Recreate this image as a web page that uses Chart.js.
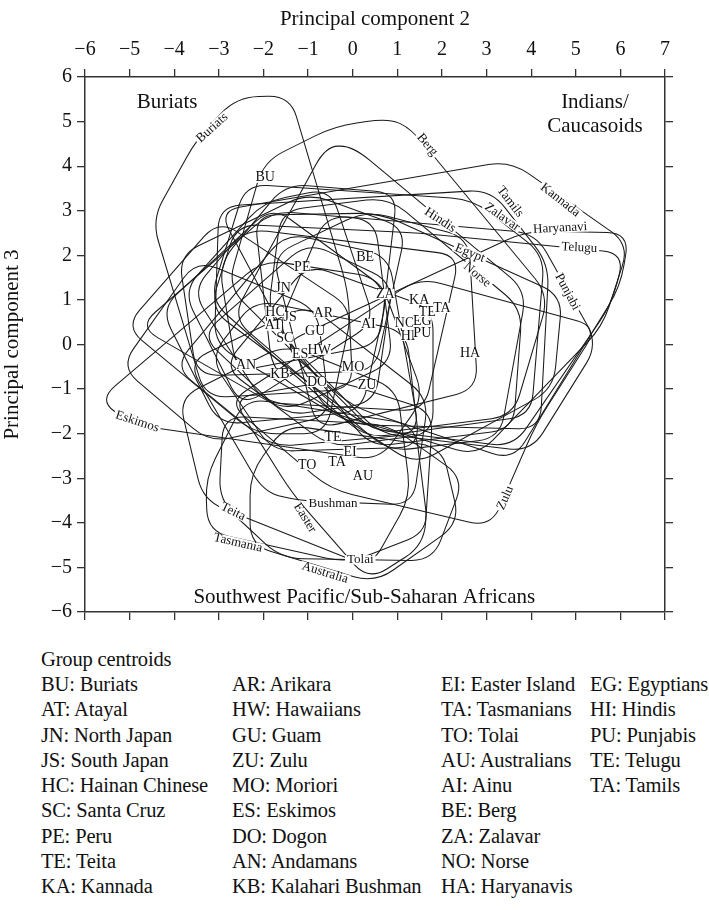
<!DOCTYPE html>
<html>
<head>
<meta charset="utf-8">
<script src="https://cdn.jsdelivr.net/npm/chart.js@4.4.1/dist/chart.umd.min.js"></script>
<style>
  html,body{margin:0;padding:0;background:#fff;}
  body{width:709px;height:910px;overflow:hidden;position:relative;font-family:"Liberation Serif","Times New Roman",serif;color:#111;}
  #wrap{position:absolute;left:0;top:0;width:709px;height:640px;}
  .col{position:absolute;font-size:20.5px;line-height:25.3px;white-space:nowrap;letter-spacing:-0.15px;}
</style>
</head>
<body>
<div id="wrap"><canvas id="c" width="709" height="640"></canvas></div>
<div class="col" style="left:41px;top:647px;">Group centroids</div>
<div class="col" id="col1" style="left:41px;top:672px;"></div>
<div class="col" id="col2" style="left:232px;top:672px;"></div>
<div class="col" id="col3" style="left:441px;top:672px;"></div>
<div class="col" id="col4" style="left:590px;top:672px;"></div>
<script>
// ---------------- DATA ----------------
const xTicksMin = -6, xTicksMax = 7;
const yTicksMin = -6, yTicksMax = 6;

// centroid codes (same order as legend) and their positions
const centroidCodes = ['BU','AT','JN','JS','HC','SC','PE','TE','KA',
                       'AR','HW','GU','ZU','MO','ES','DO','AN','KB',
                       'EI','TA','TO','AU','AI','BE','ZA','NO','HA',
                       'EG','HI','PU','TE','TA'];
const centroidX = [-1.96,-1.78,-1.56,-1.40,-1.74,-1.52,-1.13,-0.44,1.49,
                   -0.66,-0.75,-0.84,0.32,0.01,-1.18,-0.80,-2.39,-1.63,
                   -0.06,-0.35,-1.02,0.23,0.35,0.28,0.73,1.17,2.63,
                   1.56,1.24,1.56,1.67,2.00];
const centroidY = [3.74,0.42,1.27,0.62,0.73,0.13,1.72,-2.09,1.00,
                   0.71,-0.12,0.30,-0.91,-0.52,-0.21,-0.84,-0.46,-0.66,
                   -2.41,-2.65,-2.70,-2.95,0.46,1.96,1.13,0.48,-0.19,
                   0.53,0.19,0.26,0.73,0.82];

// legend entries
const legendCol1 = ['BU: Buriats','AT: Atayal','JN: North Japan','JS: South Japan','HC: Hainan Chinese','SC: Santa Cruz','PE: Peru','TE: Teita','KA: Kannada'];
const legendCol2 = ['AR: Arikara','HW: Hawaiians','GU: Guam','ZU: Zulu','MO: Moriori','ES: Eskimos','DO: Dogon','AN: Andamans','KB: Kalahari Bushman'];
const legendCol3 = ['EI: Easter Island','TA: Tasmanians','TO: Tolai','AU: Australians','AI: Ainu','BE: Berg','ZA: Zalavar','NO: Norse','HA: Haryanavis'];
const legendCol4 = ['EG: Egyptians','HI: Hindis','PU: Punjabis','TE: Telugu','TA: Tamils'];

// group outlines (corner points, data units: PC2, PC3)
const hull_BU = [[-2.6,5.55],[-1.4,5.58],[-0.1,1.2],[0.0,-1.0],[-3.3,-1.2],[-4.5,2.8],[-3.5,4.6]];
const hull_AT = [[-4.3,0.8],[-1.8,3.1],[0.8,1.2],[0.2,-1.5],[-3.0,-1.8]];
const hull_JN = [[-3.9,2.0],[-1.0,3.4],[1.2,2.6],[0.5,-0.6],[-3.5,-0.7]];
const hull_JS = [[-4.8,0.4],[-1.8,3.0],[0.5,2.8],[0.9,-0.4],[-1.5,-1.5]];
const hull_HC = [[-3.8,1.2],[-2.0,3.2],[-0.5,3.5],[0.5,0.5],[-2.5,-1.4]];
const hull_SC = [[-5.1,0.4],[-3.0,2.8],[0.0,0.8],[-0.6,-2.0],[-2.2,-2.0]];
const hull_PE = [[-3.0,1.8],[-1.5,3.6],[1.0,3.4],[0.6,0.0],[-2.6,-0.6]];
const hull_TEi = [[-1.5,0.0],[-3.9,-1.2],[-3.35,-3.5],[0.4,-5.0],[1.3,-3.4],[1.0,-1.0]];
const hull_KA = [[-3.0,3.0],[3.53,4.12],[6.2,2.25],[5.6,0.4],[2.8,-2.5],[-0.6,-1.5]];
const hull_AR = [[-3.6,1.2],[-2.4,2.6],[2.4,2.0],[1.6,-1.5],[-2.0,-1.3]];
const hull_HW = [[-4.0,-0.5],[-1.5,2.5],[0.8,2.0],[1.5,-2.0],[-1.8,-2.3]];
const hull_GU = [[-3.4,0.2],[-1.0,2.3],[0.9,1.4],[0.5,-1.3],[-1.5,-1.6]];
const hull_ZU = [[-2.8,-1.3],[-0.5,-3.25],[3.1,-4.1],[4.1,-1.8],[5.5,0.4],[1.5,1.5]];
const hull_MO = [[-2.9,-0.5],[-1.0,1.8],[1.8,0.8],[1.8,-2.0],[-0.5,-2.3]];
const hull_ES = [[-5.7,-1.25],[-4.9,-1.8],[0.6,-2.6],[1.6,-1.2],[0.6,1.5],[-2.0,1.9]];
const hull_DO = [[-3.2,-0.3],[-2.2,1.0],[1.2,0.3],[1.5,-2.3],[-1.8,-2.4]];
const hull_AN = [[-5.2,-0.5],[-3.5,1.9],[-0.8,0.8],[-0.5,-1.6],[-3.2,-2.2]];
const hull_KB = [[-3.7,-0.4],[-2.0,-3.3],[-1.25,-3.5],[1.35,-3.6],[1.7,-1.2],[-1.0,0.9]];
const hull_EI = [[-2.7,-1.2],[-1.35,-3.35],[0.35,-5.3],[1.6,-4.5],[1.8,-1.5],[-0.4,-0.8]];
const hull_TAs = [[-2.4,-1.2],[-3.3,-3.0],[-3.25,-4.2],[-0.1,-4.9],[1.7,-4.2],[1.4,-1.8]];
const hull_TO = [[-2.9,-1.6],[-3.0,-3.5],[-1.6,-4.8],[1.8,-4.85],[2.5,-3.0],[0.8,-1.8]];
const hull_AU = [[-1.5,-1.8],[-2.3,-2.9],[-2.3,-4.5],[0.5,-5.35],[2.4,-4.0],[2.0,-2.3]];
const hull_AI = [[-1.8,2.0],[0.3,3.0],[2.6,2.4],[2.8,-1.0],[-0.8,-1.9]];
const hull_BE = [[-2.0,4.1],[-0.4,4.9],[0.8,5.07],[1.3,4.85],[4.4,1.1],[3.6,-1.6],[0.5,-2.0],[-2.8,1.3]];
const hull_ZA = [[-2.4,3.6],[2.7,3.25],[4.3,2.0],[4.0,-1.6],[0.3,-2.1],[-3.2,1.0]];
const hull_NO = [[-1.6,3.0],[0.8,3.3],[3.8,0.8],[3.6,-1.9],[0.4,-2.3],[-1.9,0.7]];
const hull_HA = [[-1.6,0.0],[3.9,2.55],[6.2,2.5],[6.0,1.3],[3.6,-2.6],[0.0,-1.4]];
const hull_EG = [[-2.2,2.9],[0.6,2.95],[4.7,1.1],[4.5,-1.0],[1.4,-2.7],[-1.8,-0.6]];
const hull_HI = [[-0.6,4.45],[0.0,4.45],[3.9,1.2],[3.3,-2.1],[0.8,-2.4],[-2.7,0.6]];
const hull_PU = [[-0.6,2.9],[4.1,2.5],[5.5,0.0],[4.0,-2.4],[0.6,-2.0],[-1.7,0.3]];
const hull_TEl = [[-2.6,2.7],[1.5,2.5],[6.1,2.05],[5.8,0.9],[3.6,-2.3],[0.4,-1.9],[-3.2,0.8]];
const hull_TAm = [[-3.0,3.1],[3.1,3.47],[4.4,1.8],[4.2,-1.9],[0.0,-1.8],[-3.1,0.0]];

// names written along outlines
const curveLabelText  = ['Buriats','Berg','Kannada','Tamils','Zalavar','Haryanavi','Telugu','Hindis','Egypt','Norse','Punjabi','Eskimos','Teita','Tasmania','Easter','Bushman','Tolai','Australia','Zulu'];
const curveLabelX     = [-3.15,1.67,4.65,3.53,3.35,4.65,5.08,1.96,2.63,2.79,4.81,-4.83,-2.68,-2.57,-1.07,-0.44,0.17,-0.62,3.42];
const curveLabelY     = [4.86,4.48,3.24,3.20,2.86,2.61,2.17,2.79,2.05,1.56,1.18,-1.73,-3.75,-4.45,-3.89,-3.57,-4.83,-5.12,-3.44];
const curveLabelAngle = [-42,50,38,52,35,-3,3,33,22,40,62,18,26,13,58,0,0,17,-66];

// region annotations
const regionText = ['Buriats','Indians/','Caucasoids','Southwest Pacific/Sub-Saharan Africans'];
const regionX = [-4.16,5.43,5.43,0.26];
const regionY = [5.42,5.42,4.90,-5.68];

// ---------------- BUILD ----------------
const hulls = [hull_BU,hull_AT,hull_JN,hull_JS,hull_HC,hull_SC,hull_PE,hull_TEi,hull_KA,
               hull_AR,hull_HW,hull_GU,hull_ZU,hull_MO,hull_ES,hull_DO,hull_AN,hull_KB,
               hull_EI,hull_TAs,hull_TO,hull_AU,hull_AI,hull_BE,hull_ZA,hull_NO,hull_HA,
               hull_EG,hull_HI,hull_PU,hull_TEl,hull_TAm];

function fillCol(id, arr){ document.getElementById(id).innerHTML = arr.map(s=>'<div>'+s+'</div>').join(''); }
fillCol('col1',legendCol1); fillCol('col2',legendCol2); fillCol('col3',legendCol3); fillCol('col4',legendCol4);

const FONT = '"Liberation Serif","Times New Roman",serif';
const datasets = hulls.map((h,i)=>({
  kind:'hull', data:h.map(p=>({x:p[0],y:p[1]})), showLine:false, pointRadius:0, pointHoverRadius:0
}));
datasets.push({kind:'centroid', data:centroidX.map((x,i)=>({x:x,y:centroidY[i]})), showLine:false, pointRadius:0, pointHoverRadius:0});
datasets.push({kind:'curveLabel', data:curveLabelX.map((x,i)=>({x:x,y:curveLabelY[i]})), showLine:false, pointRadius:0, pointHoverRadius:0});
datasets.push({kind:'region', data:regionX.map((x,i)=>({x:x,y:regionY[i]})), showLine:false, pointRadius:0, pointHoverRadius:0});

function roundedPath(ctx, pts, r){
  const n = pts.length;
  const corners = [];
  for(let i=0;i<n;i++){
    const p=pts[i], a=pts[(i-1+n)%n], b=pts[(i+1)%n];
    const la=Math.hypot(a.x-p.x,a.y-p.y), lb=Math.hypot(b.x-p.x,b.y-p.y);
    const ta=Math.min(r/la,0.45), tb=Math.min(r/lb,0.45);
    corners.push({p:p, s:{x:p.x+(a.x-p.x)*ta,y:p.y+(a.y-p.y)*ta}, e:{x:p.x+(b.x-p.x)*tb,y:p.y+(b.y-p.y)*tb}});
  }
  ctx.moveTo(corners[0].s.x,corners[0].s.y);
  for(let i=0;i<n;i++){
    const c=corners[i];
    ctx.lineTo(c.s.x,c.s.y);
    ctx.quadraticCurveTo(c.p.x,c.p.y,c.e.x,c.e.y);
  }
  ctx.closePath();
}

function knockText(ctx, text, x, y, angleDeg, font, pad){
  ctx.save();
  ctx.translate(x,y);
  ctx.rotate(angleDeg*Math.PI/180);
  ctx.font = font;
  const w = ctx.measureText(text).width;
  const hgt = parseFloat(font.match(/(\d+(\.\d+)?)px/)[1]);
  ctx.fillStyle='#fff';
  ctx.fillRect(-w/2-pad, -hgt*0.36, w+2*pad, hgt*0.72);
  ctx.fillStyle='#111';
  ctx.textAlign='center'; ctx.textBaseline='middle';
  ctx.fillText(text,0,0);
  ctx.restore();
}

const drawPlugin = {
  id:'drawPlugin',
  afterDatasetsDraw(chart){
    const ctx = chart.ctx, area = chart.chartArea;
    ctx.save();
    ctx.beginPath(); ctx.rect(area.left,area.top,area.right-area.left,area.bottom-area.top); ctx.clip();
    ctx.strokeStyle='#1a1a1a'; ctx.lineWidth=1.05; ctx.lineJoin='round';
    chart.data.datasets.forEach((ds,i)=>{
      if(ds.kind!=='hull') return;
      const pts = chart.getDatasetMeta(i).data.map(e=>({x:e.x,y:e.y}));
      ctx.beginPath(); roundedPath(ctx,pts,22); ctx.stroke();
    });
    chart.data.datasets.forEach((ds,i)=>{
      const els = chart.getDatasetMeta(i).data;
      if(ds.kind==='curveLabel'){
        els.forEach((e,k)=>knockText(ctx,curveLabelText[k],e.x,e.y,curveLabelAngle[k],'13px '+FONT,2));
      } else if(ds.kind==='centroid'){
        els.forEach((e,k)=>knockText(ctx,centroidCodes[k],e.x,e.y,0,'14px '+FONT,0));
      }
    });
    chart.data.datasets.forEach((ds,i)=>{
      if(ds.kind!=='region') return;
      const els = chart.getDatasetMeta(i).data;
      els.forEach((e,k)=>{
        ctx.font='21px '+FONT; ctx.fillStyle='#111'; ctx.textAlign='center'; ctx.textBaseline='middle';
        ctx.fillText(regionText[k],e.x,e.y);
      });
    });
    ctx.restore();
  }
};

const minus = v => (v<0 ? '\u2212'+Math.abs(v) : String(v));
const tickFont = {family:FONT, size:20};
const axisCommon = {
  grid:{drawOnChartArea:false, drawTicks:true, tickLength:8, color:'#333', lineWidth:1.3},
  border:{display:true, color:'#333', width:1.5}
};

new Chart(document.getElementById('c'),{
  type:'scatter',
  data:{datasets:datasets},
  options:{
    responsive:false, animation:false, devicePixelRatio:1,
    layout:{padding:0},
    plugins:{legend:{display:false}, tooltip:{enabled:false}},
    events:[],
    scales:{
      x:{type:'linear', position:'top', min:xTicksMin, max:xTicksMax,
         ticks:{stepSize:1, color:'#111', font:tickFont, padding:7, callback:minus, maxRotation:0, autoSkip:false},
         title:{display:true, text:'Principal component 2', color:'#111', font:{family:FONT,size:21}, padding:{top:7,bottom:0}},
         ...axisCommon, afterFit(s){ s.height = 77; }},
      y:{type:'linear', position:'left', min:yTicksMin, max:yTicksMax,
         ticks:{stepSize:1, color:'#111', font:tickFont, padding:5, callback:minus, autoSkip:false},
         title:{display:true, text:'Principal component 3', color:'#111', font:{family:FONT,size:21}, padding:{top:0,bottom:4}},
         ...axisCommon, afterFit(s){ s.width = 85; }},
      x2:{type:'linear', position:'bottom', min:xTicksMin, max:xTicksMax,
         ticks:{stepSize:1, display:false},
         ...axisCommon, afterFit(s){ s.height = 28; }},
      y2:{type:'linear', position:'right', min:yTicksMin, max:yTicksMax,
         ticks:{stepSize:1, display:false},
         ...axisCommon, afterFit(s){ s.width = 44; }}
    }
  },
  plugins:[drawPlugin]
});
</script>
</body>
</html>
